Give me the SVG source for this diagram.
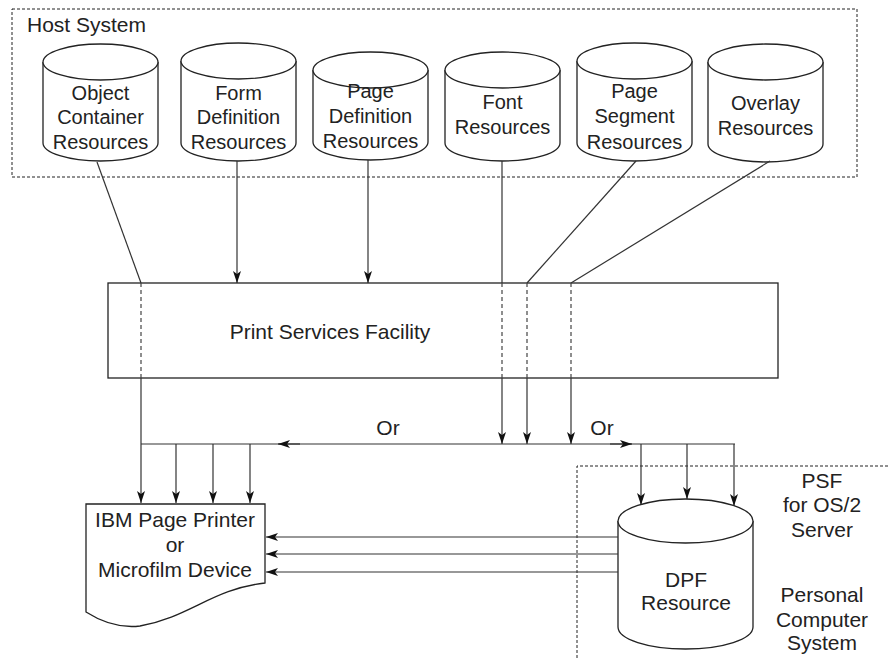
<svg xmlns="http://www.w3.org/2000/svg" width="888" height="658" viewBox="0 0 888 658">
<style>
.t{font-family:"Liberation Sans",Arial,sans-serif;font-size:20px;fill:#222;text-anchor:middle}
.tl{font-family:"Liberation Sans",Arial,sans-serif;font-size:21px;fill:#222;text-anchor:middle}
.s{fill:#fff;stroke:#222;stroke-width:1.3}
.c{fill:none;stroke:#333;stroke-width:1.2}
.d{fill:none;stroke:#444;stroke-width:1.2;stroke-dasharray:4,3}
.b{fill:none;stroke:#222;stroke-width:1;stroke-dasharray:3,2}
</style>
<defs>
<marker id="a" viewBox="0 0 12 8" refX="12" refY="4" markerWidth="12" markerHeight="8" markerUnits="userSpaceOnUse" orient="auto">
<path d="M0,0 L12,4 L0,8 L3,4 z" fill="#111"/>
</marker>
</defs>
<rect width="888" height="658" fill="#fff"/>

<g id="host-system">
<rect x="12" y="9" width="845" height="168" class="b"/>
<text x="27" y="32" class="tl" style="text-anchor:start">Host System</text>
</g>

<g id="object-container">
<path class="s" d="M43,62 L43,143 A57.5,18 0 0 0 158,143 L158,62"/>
<ellipse class="s" cx="100.5" cy="62" rx="57.5" ry="18"/>
<text class="t" x="100.5" y="100">Object</text>
<text class="t" x="100.5" y="124">Container</text>
<text class="t" x="100.5" y="149">Resources</text>
</g>
<g id="form-definition">
<path class="s" d="M181,61 L181,143 A57.5,18 0 0 0 296,143 L296,61"/>
<ellipse class="s" cx="238.5" cy="61" rx="57.5" ry="18"/>
<text class="t" x="238.5" y="100">Form</text>
<text class="t" x="238.5" y="124">Definition</text>
<text class="t" x="238.5" y="149">Resources</text>
</g>
<g id="page-definition">
<path class="s" d="M313,70 L313,142 A57.5,18 0 0 0 428,142 L428,70"/>
<ellipse class="s" cx="370.5" cy="70" rx="57.5" ry="18"/>
<text class="t" x="370.5" y="98">Page</text>
<text class="t" x="370.5" y="123">Definition</text>
<text class="t" x="370.5" y="148">Resources</text>
</g>
<g id="font">
<path class="s" d="M445,70 L445,143 A57.5,18 0 0 0 560,143 L560,70"/>
<ellipse class="s" cx="502.5" cy="70" rx="57.5" ry="18"/>
<text class="t" x="502.5" y="109">Font</text>
<text class="t" x="502.5" y="134">Resources</text>
</g>
<g id="page-segment">
<path class="s" d="M577,61 L577,143 A57.5,18 0 0 0 692,143 L692,61"/>
<ellipse class="s" cx="634.5" cy="61" rx="57.5" ry="18"/>
<text class="t" x="634.5" y="98">Page</text>
<text class="t" x="634.5" y="123">Segment</text>
<text class="t" x="634.5" y="149">Resources</text>
</g>
<g id="overlay">
<path class="s" d="M708,62 L708,144 A57.5,18 0 0 0 823,144 L823,62"/>
<ellipse class="s" cx="765.5" cy="62" rx="57.5" ry="18"/>
<text class="t" x="765.5" y="110">Overlay</text>
<text class="t" x="765.5" y="135">Resources</text>
</g>

<g id="psf">
<rect class="s" x="108" y="283" width="670" height="95"/>
<text class="tl" x="330" y="339">Print Services Facility</text>
</g>

<g id="printer">
<path class="s" d="M86,504 L265,504 L265,583 C212,589 190,617 140,626 C115,629 97,619 86,612 Z"/>
<text class="tl" x="175" y="527">IBM Page Printer</text>
<text class="tl" x="175" y="552">or</text>
<text class="tl" x="175" y="577">Microfilm Device</text>
</g>

<g id="pc-system">
<path class="b" d="M577,658 L577,466 L888,466"/>
<text class="tl" x="822" y="488">PSF</text>
<text class="tl" x="822" y="512">for OS/2</text>
<text class="tl" x="822" y="537">Server</text>
<text class="tl" x="822" y="602">Personal</text>
<text class="tl" x="822" y="627">Computer</text>
<text class="tl" x="822" y="650">System</text>
</g>

<g id="dpf">
<path class="s" d="M618,521 L618,627 A67.5,22 0 0 0 753,627 L753,521"/>
<ellipse class="s" cx="685.5" cy="521" rx="67.5" ry="22"/>
<text class="tl" x="686" y="587">DPF</text>
<text class="tl" x="686" y="610">Resource</text>
</g>

<g id="connectors">
<line class="c" x1="97" y1="162" x2="141" y2="283"/>
<line class="d" x1="141" y1="283" x2="141" y2="378"/>
<line class="c" x1="141" y1="378" x2="141" y2="503" marker-end="url(#a)"/>
<line class="c" x1="237" y1="161" x2="237" y2="283" marker-end="url(#a)"/>
<line class="c" x1="368" y1="160" x2="368" y2="283" marker-end="url(#a)"/>
<line class="c" x1="502" y1="161" x2="502" y2="283"/>
<line class="d" x1="502" y1="283" x2="502" y2="378"/>
<line class="c" x1="502" y1="378" x2="502" y2="444" marker-end="url(#a)"/>
<line class="c" x1="636" y1="161" x2="527" y2="283"/>
<line class="d" x1="527" y1="283" x2="527" y2="378"/>
<line class="c" x1="527" y1="378" x2="527" y2="444" marker-end="url(#a)"/>
<line class="c" x1="770" y1="161" x2="571" y2="283"/>
<line class="d" x1="571" y1="283" x2="571" y2="378"/>
<line class="c" x1="571" y1="378" x2="571" y2="444" marker-end="url(#a)"/>
<line class="c" x1="141" y1="444" x2="735" y2="444"/>
<line class="c" x1="300" y1="444" x2="278" y2="444" marker-end="url(#a)"/>
<line class="c" x1="610" y1="444" x2="632" y2="444" marker-end="url(#a)"/>
<line class="c" x1="176" y1="444" x2="176" y2="503" marker-end="url(#a)"/>
<line class="c" x1="213" y1="444" x2="213" y2="503" marker-end="url(#a)"/>
<line class="c" x1="250" y1="444" x2="250" y2="503" marker-end="url(#a)"/>
<line class="c" x1="641" y1="444" x2="641" y2="505" marker-end="url(#a)"/>
<line class="c" x1="687" y1="444" x2="687" y2="499" marker-end="url(#a)"/>
<line class="c" x1="734" y1="444" x2="734" y2="506" marker-end="url(#a)"/>
<line class="c" x1="618" y1="537" x2="266" y2="537" marker-end="url(#a)"/>
<line class="c" x1="618" y1="554" x2="266" y2="554" marker-end="url(#a)"/>
<line class="c" x1="618" y1="572" x2="266" y2="572" marker-end="url(#a)"/>
<text class="tl" x="388" y="435">Or</text>
<text class="tl" x="602" y="435">Or</text>
</g>
</svg>
